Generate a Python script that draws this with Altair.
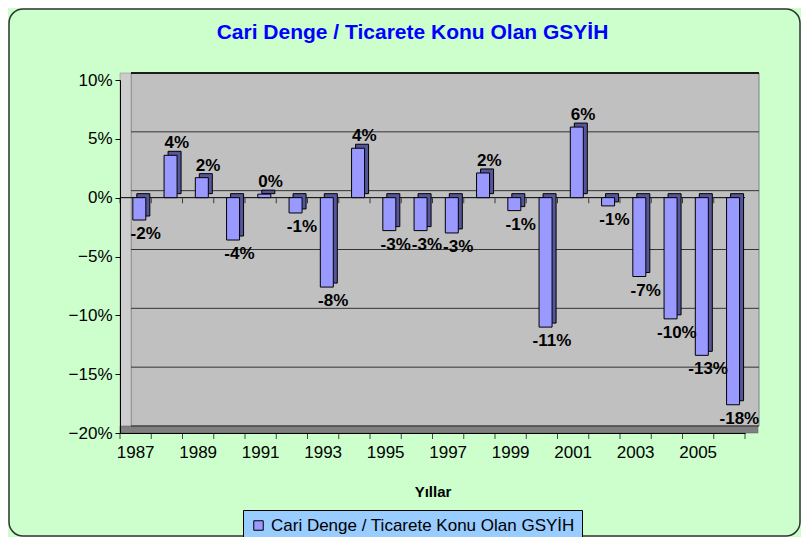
import altair as alt
import pandas as pd

years = [1987, 1988, 1989, 1990, 1991, 1992, 1993, 1994, 1995, 1996,
         1997, 1998, 1999, 2000, 2001, 2002, 2003, 2004, 2005, 2006]
values_pct = [-1.9, 3.6, 1.7, -3.6, 0.3, -1.3, -7.6, 4.2, -2.8, -2.8,
              -3.0, 2.1, -1.1, -11.0, 6.0, -0.7, -6.7, -10.3, -13.4, -17.6]
labels = ["-2%", "4%", "2%", "-4%", "0%", "-1%", "-8%", "4%", "-3%", "-3%",
          "-3%", "2%", "-1%", "-11%", "6%", "-1%", "-7%", "-10%", "-13%", "-18%"]
y_ticks = [-0.20, -0.15, -0.10, -0.05, 0.0, 0.05, 0.10]
series_name = "Cari Denge / Ticarete Konu Olan GSYİH"
title_text = "Cari Denge / Ticarete Konu Olan GSYİH"
x_title = "Yıllar"

df = pd.DataFrame({
    "year": [str(y) for y in years],
    "value": [v / 100 for v in values_pct],
    "label": labels,
    "series": [series_name] * len(years),
})
grid_df = pd.DataFrame({"tick": y_ticks})
wall_df = pd.DataFrame({"top": [0.1], "bottom": [-0.2], "zero": [0.0],
                        "title": [title_text]})

W, H = 625, 353
PL, PT, PR, PB = 112, 72, 56, 104
DX, DY = 11, -7  # depth offsets
BAND = W / len(years)

FONT = "Liberation Sans"
year_order = [str(y) for y in years]

x_axis = alt.Axis(title=x_title,
                  labelExpr="parseInt(datum.value) % 2 == 1 ? datum.value : ''",
                  labelAngle=0, ticks=False, tickSize=0, zindex=1,
                  domainColor="black", labelFont=FONT, labelFontSize=17,
                  labelColor="black", labelPadding=11, titleFont=FONT,
                  titleFontSize=15, titleFontWeight="bold", titleColor="black",
                  titlePadding=24, grid=False)
x_scale = alt.Scale(paddingInner=0, paddingOuter=0)
y_scale = alt.Scale(domain=[-0.2, 0.1], nice=False, zero=False)
y_axis = alt.Axis(title=None, values=y_ticks, format=".0%", tickSize=5, zindex=1,
                  tickColor="black", domainColor="black", labelFont=FONT,
                  labelFontSize=17, labelColor="black", labelPadding=3,
                  grid=False)


def X(**kw):
    return alt.X("year:O", sort=year_order, scale=x_scale, axis=x_axis, **kw)


def Y(field):
    return alt.Y(field, scale=y_scale, axis=y_axis)


walls = alt.Chart(wall_df)

frame = walls.mark_rect(fill="#CCFFCC", fillOpacity=0, stroke="#333333",
                        strokeWidth=1.5, cornerRadius=14, yOffset=-(PT - 1),
                        y2Offset=PB - 1).encode(
    x=alt.value(-PL + 1), x2=alt.value(W + PR - 1),
    y=Y("top:Q"), y2="bottom:Q")

title_mark = walls.mark_text(font=FONT, fontSize=21, fontWeight="bold",
                             color="#0000FF", baseline="middle", align="center",
                             dy=-47).encode(
    x=alt.value(W / 2 - 20), y=Y("top:Q"), text="title:N")

back_wall = walls.mark_rect(fill="#C0C0C0", stroke="#808080", strokeWidth=1,
                            yOffset=DY, y2Offset=DY).encode(
    x=alt.value(DX), x2=alt.value(W + 14),
    y=Y("top:Q"), y2="bottom:Q")

side_wall = walls.mark_rect(fill="#CDCDCD", stroke="#808080", strokeWidth=0.5,
                            yOffset=DY).encode(
    x=alt.value(0), x2=alt.value(DX),
    y=Y("top:Q"), y2="bottom:Q")

floor = walls.mark_rect(fill="#808080", stroke="#555555", strokeWidth=0.5,
                        yOffset=DY).encode(
    x=alt.value(0), x2=alt.value(W + 13),
    y=Y("bottom:Q"), y2="bottom:Q")

grid = alt.Chart(grid_df).mark_rule(color="#333333", strokeWidth=1, yOffset=DY).encode(
    x=alt.value(DX), x2=alt.value(W + 14),
    y=Y("tick:Q"))

top_edge = walls.mark_rule(color="black", strokeWidth=1.5, yOffset=DY).encode(
    x=alt.value(DX), x2=alt.value(W + 14),
    y=Y("top:Q"))

zero_front = walls.mark_rule(color="black", strokeWidth=1).encode(
    x=alt.value(0), x2=alt.value(W),
    y=Y("zero:Q"))

zero_ticks = alt.Chart(df).mark_tick(color="black", size=5, thickness=1,
                                     orient="vertical", yOffset=3,
                                     xOffset=-BAND / 2).encode(
    x=X(), y=alt.datum(0.0))

bottom_ticks = alt.Chart(df).mark_tick(color="black", size=6, thickness=1,
                                       orient="vertical", yOffset=3,
                                       xOffset=-BAND / 2).encode(
    x=X(), y=alt.datum(-0.2))

end_tick = alt.Chart(df).transform_filter("datum.year == '2006'").mark_tick(
    color="black", size=6, thickness=1, orient="vertical", yOffset=3,
    xOffset=BAND / 2).encode(
    x=X(), y=alt.datum(-0.2))

bar_depth = alt.Chart(df).mark_bar(size=13, color="#55559A", stroke="black",
                                   strokeWidth=1, xOffset=3.7 + 4, yOffset=-4,
                                   y2Offset=-4).encode(
    x=X(), y=Y("value:Q"), y2=alt.datum(0.0))

bars = alt.Chart(df).mark_bar(size=13, stroke="black", strokeWidth=1,
                              xOffset=3.7).encode(
    x=X(), y=Y("value:Q"), y2=alt.datum(0.0),
    color=alt.Color("series:N", scale=alt.Scale(range=["#9999FF"]),
                    legend=alt.Legend(title=None, orient="none", legendX=123,
                                      legendY=430, fillColor="#99CCFF",
                                      strokeColor="black", padding=7,
                                      symbolType="square", symbolSize=90,
                                      symbolStrokeColor="black",
                                      symbolStrokeWidth=1, labelFont=FONT,
                                      labelFontSize=17, labelColor="black",
                                      labelLimit=400)))

pos_labels = alt.Chart(df).transform_filter("datum.value >= 0").mark_text(
    font=FONT, fontSize=17, fontWeight="bold", color="black",
    baseline="alphabetic", dx=10, dy=-7).encode(
    x=X(), y=Y("value:Q"), text="label:N")

neg_labels = alt.Chart(df).transform_filter("datum.value < 0").mark_text(
    font=FONT, fontSize=17, fontWeight="bold", color="black",
    baseline="top", dx=10, dy=6).encode(
    x=X(), y=Y("value:Q"), text="label:N")

chart = alt.layer(
    frame, title_mark, back_wall, side_wall, floor, grid, top_edge, zero_front,
    zero_ticks, bottom_ticks, end_tick, bar_depth, bars, pos_labels, neg_labels
).properties(
    width=W, height=H,
    autosize=alt.AutoSizeParams(type="none"),
    padding={"left": PL, "top": PT, "right": PR, "bottom": PB},
    background="#CCFFCC",
).configure_view(stroke=None)

chart.save("out.html", embed_options={"renderer": "svg", "actions": False})
